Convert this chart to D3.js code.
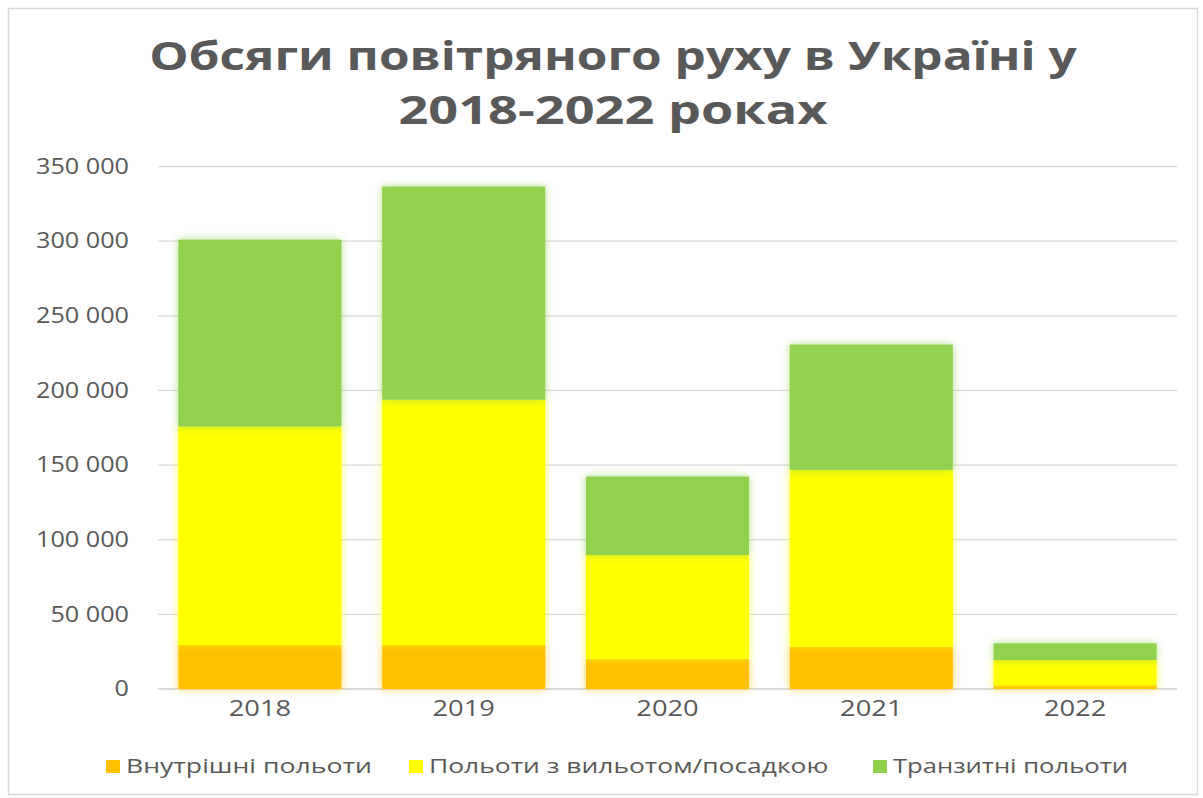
<!DOCTYPE html>
<html><head><meta charset="utf-8">
<script src="https://cdn.jsdelivr.net/npm/d3@7"></script>
<style>body{margin:0;background:#fff}svg{display:block}</style>
</head><body>
<svg id="c" width="1203" height="798"></svg>
<script>
const years = ["2018","2019","2020","2021","2022"];
const seriesNames = ["Внутрішні польоти","Польоти з вильотом/посадкою","Транзитні польоти"];
const domestic = [29500, 29500, 20000, 28400, 2500];
const depLand = [146400, 164300, 69800, 118400, 16900];
const transit = [125100, 142800, 52500, 83900, 11200];
const yTicks = [0,50000,100000,150000,200000,250000,300000,350000];
const colors = ["#FFC000","#FFFF00","#92D050"];
const titleLines = ["Обсяги повітряного руху в Україні у","2018-2022 роках"];

const svg = d3.select("#c");
const W = 1203, H = 798;
const m = {left:158, right:1177, top:166.5, bottom:689};
svg.append("rect").attr("x",8.5).attr("y",8.5).attr("width",W-14).attr("height",H-12)
  .attr("fill","#fff").attr("stroke","#d9d9d9").attr("stroke-width",1.5);

const defs = svg.append("defs");
const f = defs.append("filter").attr("id","glow").attr("x","-20%").attr("y","-20%").attr("width","140%").attr("height","140%");
f.append("feGaussianBlur").attr("in","SourceGraphic").attr("stdDeviation",4).attr("result","b");
f.append("feComponentTransfer").attr("in","b").attr("result","b2")
  .append("feFuncA").attr("type","linear").attr("slope",0.7);
const fm = f.append("feMerge");
fm.append("feMergeNode").attr("in","b2");
fm.append("feMergeNode").attr("in","SourceGraphic");

function stretch(sel, k){
  sel.each(function(d,i){
    const kk = Array.isArray(k) ? k[i] : k;
    const len = this.getComputedTextLength();
    d3.select(this).attr("textLength", len*kk).attr("lengthAdjust","spacingAndGlyphs");
  });
}

const x = d3.scaleBand().domain(years).range([m.left,m.right]).paddingInner(0.2).paddingOuter(0.1);
const y = d3.scaleLinear().domain([0,350000]).range([m.bottom,m.top]);

const fmt = v => d3.format(",")(v).replace(/,/g," ");

// grid
svg.append("g").selectAll("line").data(yTicks).join("line")
  .attr("x1",m.left).attr("x2",m.right)
  .attr("y1",d=>y(d)).attr("y2",d=>y(d))
  .attr("stroke",d=>d===0?"#cfcfcf":"#d9d9d9").attr("stroke-width",1.3);

// y axis labels
const yAxis = d3.axisLeft(y).tickValues(yTicks).tickFormat(fmt).tickSize(0).tickPadding(0);
const gy = svg.append("g").attr("transform",`translate(${129},0)`).call(yAxis);
gy.select(".domain").remove();
gy.selectAll("text").attr("font-family","Open Sans, sans-serif").attr("font-size",21).attr("fill","#595959");
stretch(gy.selectAll("text"), 1.2);

// x axis labels
const xAxis = d3.axisBottom(x).tickSize(0).tickPadding(0);
const gx = svg.append("g").attr("transform",`translate(0,${701})`).call(xAxis);
gx.select(".domain").remove();
gx.selectAll("text").attr("font-family","Open Sans, sans-serif").attr("font-size",21).attr("fill","#595959");
stretch(gx.selectAll("text"), 1.3);

// stacked bars
const table = years.map((yr,i)=>({year:yr, d:domestic[i], p:depLand[i], t:transit[i]}));
const stack = d3.stack().keys(["d","p","t"])(table);
svg.append("g").selectAll("g").data(stack).join("g")
  .attr("fill",(s,i)=>colors[i]).attr("filter","url(#glow)")
  .selectAll("rect").data(s=>s).join("rect")
  .attr("x",d=>x(d.data.year)).attr("width",x.bandwidth())
  .attr("y",d=>y(d[1])).attr("height",d=>y(d[0])-y(d[1]));

// title
const tt = svg.append("g").selectAll("text").data(titleLines).join("text")
  .attr("x",613).attr("y",(d,i)=>70+i*54)
  .attr("text-anchor","middle").attr("font-family","Open Sans, sans-serif")
  .attr("font-weight","bold").attr("font-size",39).attr("fill","#595959").text(d=>d);
stretch(tt, [1.27, 1.34]);

// legend
const legX = [106, 409, 873];
const lg = svg.append("g").selectAll("g").data(seriesNames).join("g")
  .attr("transform",(d,i)=>`translate(${legX[i]},${773})`);
lg.append("rect").attr("x",0).attr("y",-13).attr("width",14).attr("height",13).attr("fill",(d,i)=>colors[i]);
const lt = lg.append("text").attr("x",20).attr("y",0).attr("font-family","Open Sans, sans-serif")
  .attr("font-size",20).attr("fill","#595959").text(d=>d);
stretch(lt, [1.33, 1.32, 1.28]);
</script>
</body></html>
